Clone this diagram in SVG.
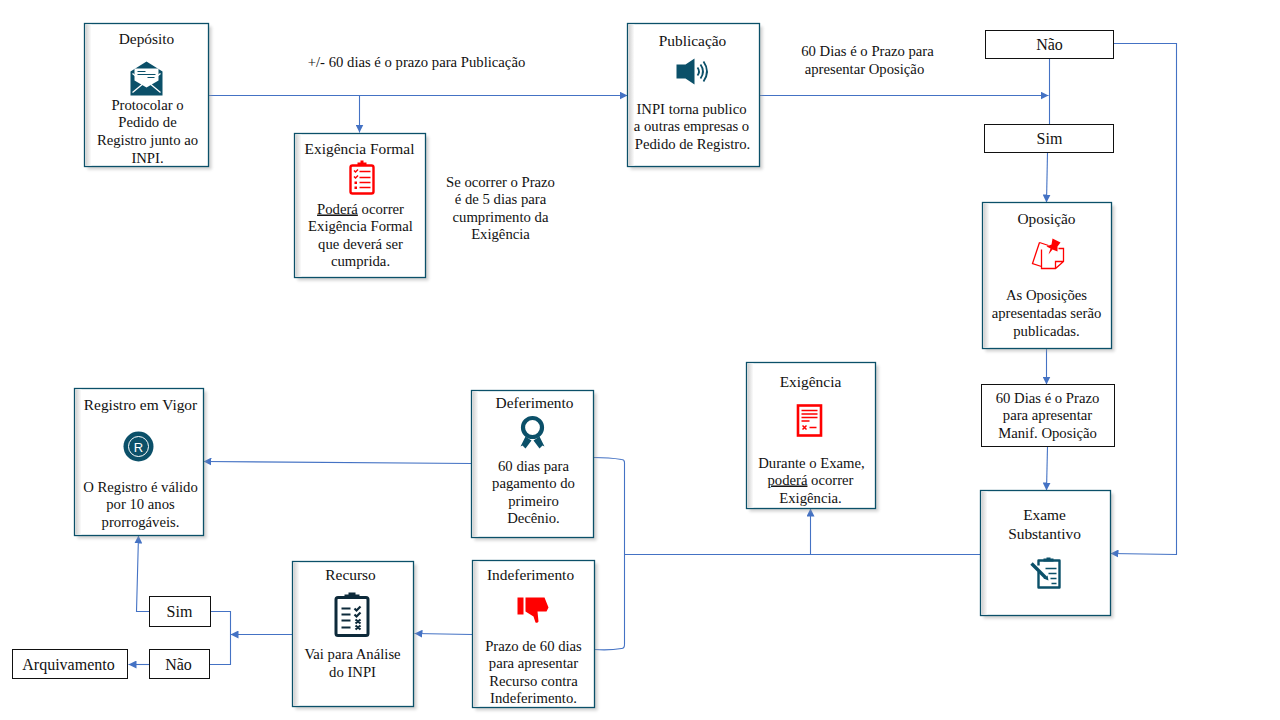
<svg xmlns="http://www.w3.org/2000/svg" width="1280" height="720" viewBox="0 0 1280 720">
<style>
text{font-family:"Liberation Serif","Times New Roman",serif;font-size:14.700px;fill:#111;text-anchor:middle}
text.h{font-size:15.400px}
text.b{font-size:16px}
.card{fill:#fff;stroke:#0b5069;stroke-width:1.300}
.box{fill:#fff;stroke:#111;stroke-width:1}
.sh{fill:#9a9a9a;opacity:.45;filter:url(#blur)}
.c{fill:none;stroke:#4472c4;stroke-width:1.100}
.a{marker-end:url(#ah)}
.t{fill:#0b5069}.ts{stroke:#0b5069;fill:none}
.r{fill:#f00}.rs{stroke:#f00;fill:none}
</style>
<defs>
<filter id="blur" x="-10%" y="-10%" width="120%" height="120%"><feGaussianBlur stdDeviation="1.500"/></filter>
<marker id="ah" markerUnits="userSpaceOnUse" markerWidth="9" markerHeight="8" refX="8" refY="4" orient="auto"><path d="M0 0L8 4L0 8Z" fill="#4472c4"/></marker>
<linearGradient id="ig"><stop offset="0" stop-color="#d0d0d0"/><stop offset="1" stop-color="#fff"/></linearGradient>
</defs>
<g transform="translate(-.5 -.5)">
<g id="connectors">
<path class="c a" d="M209 96H628"/>
<path class="c a" d="M360 96V133"/>
<path class="c a" d="M760 96H1049"/>
<path class="c" d="M1050 59V125"/>
<path class="c a" d="M1048 153L1047 203"/>
<path class="c a" d="M1047 349V385"/>
<path class="c a" d="M1048 447L1047 491"/>
<path class="c a" d="M1114 44H1177V555L1111 554"/>
<path class="c" d="M981 555H625"/>
<path class="c a" d="M811 555V509"/>
<path class="c" d="M594 458Q610 458 622 460Q625 460 625 463V645Q625 649 622 649Q610 651 595 650"/>
<path class="c a" d="M472 464L204 462"/>
<path class="c a" d="M473 635L415 634"/>
<path class="c a" d="M293 635H231"/>
<path class="c" d="M211 612H231V665H210"/>
<path class="c a" d="M150 665H129"/>
<path class="c a" d="M150 612H137L139 536"/>
</g>

<g id="deposito">
<rect class="sh" x="88" y="27" width="124" height="143"/><rect class="card" x="85" y="24" width="124" height="143"/><rect x="86" y="25" width="6" height="141" fill="url(#ig)"/>
<text class="h" x="147" y="44">Depósito</text>
<path class="t" d="M131 72L147 62L163 72V96H131Z"/>
<path fill="#fff" d="M135 69H159V81L147 88L135 81Z"/>
<path d="M133 93L145 83M161 93L149 83M133 74L147 85L161 74" stroke="#fff" stroke-width="1.300" fill="none"/>
<path d="M138 72H146M138 75H156M148 78H155" stroke="#0b5069" stroke-width="1"/>
<text x="148" y="110">Protocolar o</text><text x="148" y="127">Pedido de</text><text x="148" y="145">Registro junto ao</text><text x="148" y="163">INPI.</text>
</g>

<g id="exigencia-formal">
<rect class="sh" x="298" y="137" width="131" height="144"/><rect class="card" x="295" y="134" width="131" height="144"/><rect x="296" y="135" width="6" height="142" fill="url(#ig)"/>
<text class="h" x="360" y="154">Exigência Formal</text>
<rect x="351" y="166" width="23" height="28" rx="2" class="rs" stroke-width="2.400"/>
<path class="r" d="M358 166V163H361V161H364V163H367V166Z"/>
<path class="rs" stroke-width="1.500" d="M354.500 171l1.500 1.500l2.500-2.500M354.500 177l1.500 1.500l2.500-2.500M360 172H371M360 178H371M360 183H371M360 188H371"/>
<rect class="r" x="355" y="182" width="2.500" height="2.500"/><rect class="r" x="355" y="187" width="2.500" height="2.500"/>
<text x="361" y="214"><tspan text-decoration="underline">Poderá</tspan> ocorrer</text><text x="361" y="231">Exigência Formal</text><text x="361" y="249">que deverá ser</text><text x="361" y="266">cumprida.</text>
</g>

<g id="publicacao">
<rect class="sh" x="631" y="27" width="132" height="143"/><rect class="card" x="628" y="24" width="132" height="143"/><rect x="629" y="25" width="6" height="141" fill="url(#ig)"/>
<text class="h" x="693" y="46">Publicação</text>
<path class="t" d="M677 65H686L695 59V85L686 79H677Z"/>
<path class="ts" stroke-width="1.800" d="M698 68Q701 72 698 76M701 65Q706 72 701 79M704 62Q711 72 704 82"/>
<text x="692" y="114">INPI torna publico</text><text x="692" y="131">a outras empresas o</text><text x="693" y="149">Pedido de Registro.</text>
</g>

<g id="nao-topo"><rect class="box" x="986" y="31" width="128" height="28"/><text class="b" x="1050" y="50">Não</text></g>
<g id="sim-topo"><rect class="box" x="985" y="125" width="129" height="28"/><text class="b" x="1050" y="144">Sim</text></g>

<g id="oposicao">
<rect class="sh" x="986" y="206" width="129" height="146"/><rect class="card" x="983" y="203" width="129" height="146"/><rect x="984" y="204" width="6" height="144" fill="url(#ig)"/>
<text class="h" x="1047" y="224">Oposição</text>
<path class="rs" stroke-width="1.300" d="M1040 243L1033 264L1042 267M1040 243L1049 246"/>
<path class="rs" stroke-width="1.300" fill="#fff" d="M1042 250V269H1056L1064 262V249H1059M1056 269V262H1064"/>
<path class="r" d="M1053 239L1061 243L1058 247L1058 252L1053 250L1049 255L1051 249L1047 247L1052 245Z"/>
<text x="1047" y="300">As Oposições</text><text x="1047" y="318">apresentadas serão</text><text x="1047" y="336">publicadas.</text>
</g>

<g id="prazo-manif"><rect class="box" x="982" y="385" width="133" height="62"/><text x="1048" y="403">60 Dias é o Prazo</text><text x="1048" y="420">para apresentar</text><text x="1048" y="438">Manif. Oposição</text></g>

<g id="exame">
<rect class="sh" x="984" y="494" width="130" height="125"/><rect class="card" x="981" y="491" width="130" height="125"/><rect x="982" y="492" width="6" height="123" fill="url(#ig)"/>
<text class="h" x="1045" y="520">Exame</text><text class="h" x="1045" y="539">Substantivo</text>
<path class="ts" stroke-width="2.400" stroke-linejoin="round" d="M1039 572V588H1060V561H1039V566"/>
<path class="t" d="M1044 562V559H1047V558H1051V559H1054V562Z"/>
<path class="ts" stroke-width="1.500" d="M1046 569H1057M1049 574H1057M1051 579H1057M1052 584H1057"/>
<path class="ts" stroke-width="3.400" d="M1032 564L1046 578"/>
<path class="t" d="M1044 579L1048 576L1049 581Z"/>
</g>

<g id="exigencia">
<rect class="sh" x="750" y="366" width="129" height="146"/><rect class="card" x="747" y="363" width="129" height="146"/><rect x="748" y="364" width="6" height="144" fill="url(#ig)"/>
<text class="h" x="811" y="387">Exigência</text>
<rect class="rs" stroke-width="2.600" x="798.500" y="406" width="23" height="30"/>
<path class="rs" stroke-width="1.500" d="M802 411H818M802 414.500H818M802 418H818M802 421.500H810M803 426l4 4m0-4l-4 4M810 428H817"/>
<text x="812" y="468">Durante o Exame,</text><text x="811" y="485"><tspan text-decoration="underline">poderá</tspan> ocorrer</text><text x="811" y="503">Exigência.</text>
</g>

<g id="deferimento">
<rect class="sh" x="475" y="394" width="122" height="147"/><rect class="card" x="472" y="391" width="122" height="147"/><rect x="473" y="392" width="6" height="145" fill="url(#ig)"/>
<text class="h" x="535" y="408">Deferimento</text>
<circle class="ts" stroke-width="4.200" cx="533" cy="428" r="9.500"/>
<path class="t" d="M526 437L532 441L526 449L523 446L521 447ZM540 437L534 441L540 449L543 446L545 447Z"/>
<text x="534" y="471">60 dias para</text><text x="534" y="488">pagamento do</text><text x="534" y="506">primeiro</text><text x="534" y="523">Decênio.</text>
</g>

<g id="indeferimento">
<rect class="sh" x="476" y="564" width="122" height="147"/><rect class="card" x="473" y="561" width="122" height="147"/><rect x="474" y="562" width="6" height="145" fill="url(#ig)"/>
<text class="h" x="531" y="580">Indeferimento</text>
<path class="r" d="M518 598H524V615H518ZM526 598L545 598L549 608L547 612H538L539 622Q538 624 536 623L534 617L526 612Z"/>
<text x="534" y="651">Prazo de 60 dias</text><text x="534" y="668">para apresentar</text><text x="534" y="686">Recurso contra</text><text x="534" y="703">Indeferimento.</text>
</g>

<g id="recurso">
<rect class="sh" x="296" y="565" width="121" height="145"/><rect class="card" x="293" y="562" width="121" height="145"/><rect x="294" y="563" width="6" height="143" fill="url(#ig)"/>
<text class="h" x="351" y="580">Recurso</text>
<rect x="336.500" y="598" width="32" height="38" rx="2" fill="none" stroke="#0d2a3a" stroke-width="3"/>
<path fill="#0d2a3a" d="M345 599V595H349V593H356V595H360V599Z"/>
<path stroke="#0d2a3a" stroke-width="2.200" fill="none" d="M342 609H351M342 615H351M342 621H351M342 628H351M355 609l2 2l4-4M355 615l2 2l4-4M356 620l5 4m0-4l-5 4M356 626l5 4m0-4l-5 4"/>
<text x="353" y="659">Vai para Análise</text><text x="353" y="677">do INPI</text>
</g>

<g id="sim-baixo"><rect class="box" x="150" y="597" width="61" height="30"/><text class="b" x="180" y="617">Sim</text></g>
<g id="nao-baixo"><rect class="box" x="150" y="650" width="60" height="29"/><text class="b" x="179" y="670">Não</text></g>
<g id="arquivamento"><rect class="box" x="13" y="650" width="115" height="29"/><text class="b" x="69" y="670">Arquivamento</text></g>

<g id="registro">
<rect class="sh" x="78" y="392" width="129" height="147"/><rect class="card" x="75" y="389" width="129" height="147"/><rect x="76" y="390" width="6" height="145" fill="url(#ig)"/>
<text class="h" x="141" y="410">Registro em Vigor</text>
<circle class="t" cx="139" cy="447" r="15"/><circle cx="139" cy="447" r="10" fill="none" stroke="#fff" stroke-width="1"/>
<text x="139" y="452" style="font-family:'Liberation Sans',sans-serif;font-size:13px;fill:#fff">R</text>
<text x="141" y="492">O Registro é válido</text><text x="141" y="509">por 10 anos</text><text x="141" y="527">prorrogáveis.</text>
</g>

<g id="labels">
<text x="417" y="67">+/- 60 dias é o prazo para Publicação</text>
<text x="868" y="56">60 Dias é o Prazo para</text><text x="865" y="74">apresentar Oposição</text>
<text x="501" y="187">Se ocorrer o Prazo</text><text x="501" y="204">é de 5 dias para</text><text x="501" y="222">cumprimento da</text><text x="501" y="239">Exigência</text>
</g>
</g>
</svg>
